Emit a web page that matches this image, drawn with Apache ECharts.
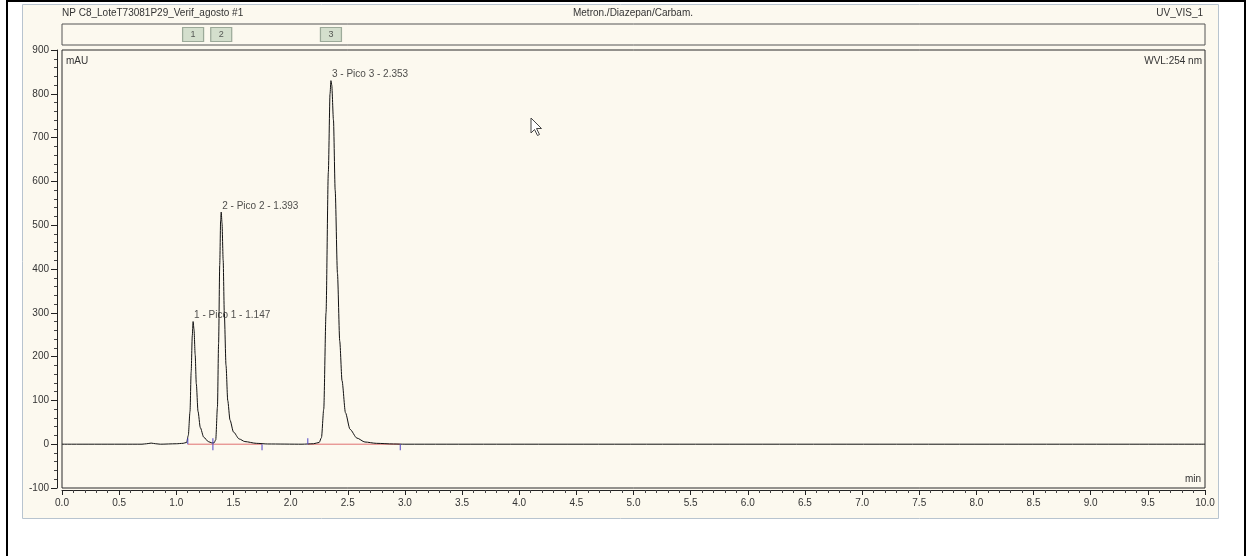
<!DOCTYPE html>
<html>
<head>
<meta charset="utf-8">
<script src="https://cdn.jsdelivr.net/npm/echarts@6/dist/echarts.min.js"></script>
<style>
  html, body { margin: 0; padding: 0; background: #ffffff; }
  #wrap { position: relative; width: 1248px; height: 556px; overflow: hidden; }
  #chart { position: absolute; left: 0; top: 0; width: 1248px; height: 556px; }
  /* outer page frame */
  #frame { position: absolute; left: 6px; top: 0px; width: 1236px; height: 600px;
           border: 2px solid #000; pointer-events: none; }
</style>
</head>
<body>
<div id="wrap">
  <div id="chart"></div>
  <div id="frame"></div>
</div>
<script>
// Chromatogram trace: retention time (min) and detector response (mAU)
const traceTime = [
  0.00, 0.70, 0.74, 0.78, 0.82, 0.86, 1.00, 1.06, 1.09, 1.105, 1.12, 1.13, 1.14, 1.147,
  1.155, 1.165, 1.175, 1.19, 1.21, 1.24, 1.28, 1.31, 1.33, 1.345, 1.36, 1.37, 1.38,
  1.388, 1.393, 1.40, 1.41, 1.42, 1.435, 1.45, 1.47, 1.50, 1.55, 1.60, 1.70, 1.80,
  2.10, 2.20, 2.25, 2.27, 2.29, 2.31, 2.33, 2.345, 2.353, 2.36, 2.375, 2.39, 2.41,
  2.43, 2.45, 2.48, 2.52, 2.58, 2.65, 2.75, 2.90, 3.00, 10.00
];
const traceMAU = [
  0, 0, 1, 2.5, 1, 0, 1, 2, 4, 20, 75, 165, 248, 280,
  262, 205, 138, 75, 38, 16, 6, 3, 3, 10, 85, 230, 410,
  512, 530, 505, 420, 300, 180, 100, 55, 28, 12, 6, 2, 0.5,
  0, 1, 4, 15, 80, 300, 620, 800, 830, 820, 740, 580, 390,
  235, 145, 72, 34, 14, 5, 2, 0.5, 0, 0
];

// Identified peaks
const peakNo = [1, 2, 3];
const peakName = ['Pico 1', 'Pico 2', 'Pico 3'];
const peakRT = [1.147, 1.393, 2.353];
const peakHeight = [280, 530, 830];

// Integration limits (min)
const intStart = [1.10, 1.32, 2.15];
const intEnd = [1.32, 1.75, 2.96];

// Header texts
const sampleName = 'NP C8_LoteT73081P29_Verif_agosto #1';
const methodName = 'Metron./Diazepan/Carbam.';
const channelName = 'UV_VIS_1';
const wavelengthText = 'WVL:254 nm';
const yUnit = 'mAU';
const xUnit = 'min';

const FONT = '"Liberation Sans", Arial, sans-serif';
const TXT = '#333333';
const PANEL = '#fcf9ef';

const chart = echarts.init(document.getElementById('chart'), null, { renderer: 'canvas' });

const traceData = traceTime.map((t, i) => [t, traceMAU[i]]);

const baselineSeries = intStart.map((s, i) => ({
  type: 'line',
  xAxisIndex: 0, yAxisIndex: 0,
  data: [[s, 0], [intEnd[i], 0]],
  symbol: 'none',
  lineStyle: { color: '#e07070', width: 1 },
  z: 2,
  silent: true
}));

const option = {
  animation: false,
  backgroundColor: '#ffffff',
  textStyle: { fontFamily: FONT },
  graphic: {
    elements: [
      // panel background
      { type: 'rect', z: -10,
        shape: { x: 22.5, y: 4.5, width: 1196, height: 514 },
        style: { fill: PANEL, stroke: '#b8c4cf', lineWidth: 1 } },
      // header
      { type: 'text', x: 62, y: 8, style: { text: sampleName, font: '10px ' + FONT, fill: TXT } },
      { type: 'text', x: 633, y: 8, style: { text: methodName, font: '10px ' + FONT, fill: TXT, align: 'center' } },
      { type: 'text', x: 1203, y: 8, style: { text: channelName, font: '10px ' + FONT, fill: TXT, align: 'right' } },
      // plot corner labels
      { type: 'text', x: 66, y: 56, style: { text: yUnit, font: '10px ' + FONT, fill: TXT } },
      { type: 'text', x: 1202, y: 56, style: { text: wavelengthText, font: '10px ' + FONT, fill: TXT, align: 'right' } },
      { type: 'text', x: 1201, y: 474, style: { text: xUnit, font: '10px ' + FONT, fill: TXT, align: 'right' } },
      // mouse pointer
      { type: 'polygon', x: 531, y: 118, z: 100,
        shape: { points: [[0, 0], [0, 15], [3.5, 11.5], [6.5, 17.5], [8.5, 16.5], [5.5, 10.5], [10.5, 10.5]] },
        style: { fill: '#ffffff', stroke: '#444', lineWidth: 1 } }
    ]
  },
  grid: [
    { left: 62, right: 43, top: 50, bottom: 68, show: true,
      backgroundColor: PANEL, borderColor: '#2a2a2a', borderWidth: 1 },
    { left: 62, right: 43, top: 24, height: 21, show: true,
      backgroundColor: PANEL, borderColor: '#555', borderWidth: 1 }
  ],
  xAxis: [
    { type: 'value', gridIndex: 0, min: 0, max: 10, interval: 0.5, offset: 2,
      axisLine: { show: true, onZero: false, lineStyle: { color: '#222', width: 1 } },
      axisTick: { show: true, inside: false, length: 5, lineStyle: { color: '#222' } },
      minorTick: { show: true, splitNumber: 5, length: 3, lineStyle: { color: '#444' } },
      splitLine: { show: false },
      axisLabel: { fontSize: 10, color: TXT, margin: 8, fontFamily: FONT,
        formatter: v => v.toFixed(1) } },
    { type: 'value', gridIndex: 1, min: 0, max: 10, show: false }
  ],
  yAxis: [
    { type: 'value', gridIndex: 0, min: -100, max: 900, interval: 100, offset: 5,
      axisLine: { show: true, onZero: false, lineStyle: { color: '#222', width: 1 } },
      axisTick: { show: true, inside: false, length: 6, lineStyle: { color: '#222' } },
      minorTick: { show: true, splitNumber: 5, length: 3, lineStyle: { color: '#444' } },
      splitLine: { show: false },
      axisLabel: { fontSize: 10, color: TXT, margin: 8, fontFamily: FONT } },
    { type: 'value', gridIndex: 1, min: 0, max: 1, show: false }
  ],
  series: [
    ...baselineSeries,
    {
      type: 'line', name: 'trace', xAxisIndex: 0, yAxisIndex: 0,
      data: traceData, symbol: 'none',
      smooth: 0.25, smoothMonotone: 'x',
      lineStyle: { color: '#111', width: 1 },
      z: 3, silent: true
    },
    // integration start delimiters
    {
      type: 'scatter', xAxisIndex: 0, yAxisIndex: 0,
      data: intStart.map(s => [s, 0]),
      symbol: 'rect', symbolSize: [1.3, 6], symbolOffset: [0, -3],
      itemStyle: { color: '#5548c8' }, z: 4, silent: true
    },
    // integration end delimiters
    {
      type: 'scatter', xAxisIndex: 0, yAxisIndex: 0,
      data: intEnd.map(e => [e, 0]),
      symbol: 'rect', symbolSize: [1.3, 6], symbolOffset: [0, 3],
      itemStyle: { color: '#5548c8' }, z: 4, silent: true
    },
    // peak annotations
    {
      type: 'scatter', xAxisIndex: 0, yAxisIndex: 0,
      data: peakRT.map((rt, i) => [rt, peakHeight[i]]),
      symbolSize: 0, z: 5, silent: true,
      label: {
        show: true, position: [1, -6], align: 'left', verticalAlign: 'middle',
        fontSize: 10, color: '#222', fontFamily: FONT,
        formatter: p => peakNo[p.dataIndex] + ' - ' + peakName[p.dataIndex] + ' - ' + peakRT[p.dataIndex].toFixed(3)
      }
    },
    // peak buttons in the marker strip
    {
      type: 'scatter', xAxisIndex: 1, yAxisIndex: 1,
      data: peakRT.map(rt => [rt, 0.5]),
      symbol: 'rect', symbolSize: [21, 14],
      itemStyle: { color: '#c9d8c4', borderColor: '#8a9a88', borderWidth: 1 },
      z: 5, silent: true,
      label: {
        show: true, position: 'inside', fontSize: 9, color: '#333', fontFamily: FONT,
        formatter: p => String(peakNo[p.dataIndex])
      }
    }
  ]
};

chart.setOption(option);
</script>
</body>
</html>
